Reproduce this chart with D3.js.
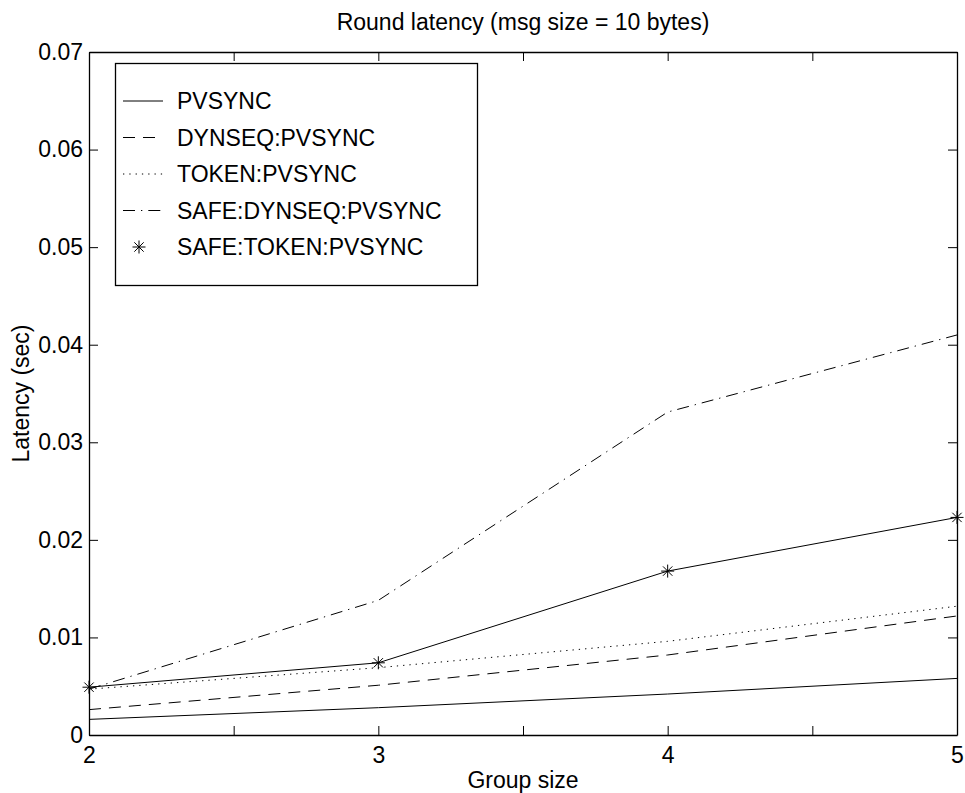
<!DOCTYPE html>
<html>
<head>
<meta charset="utf-8">
<script src="https://cdn.jsdelivr.net/npm/d3@7"></script>
<style>
  body { margin: 0; background: #fff; }
  text { font-family: "Liberation Sans", Arial, Helvetica, sans-serif; fill: #000; }
</style>
</head>
<body>
<div id="chart"></div>
<script>
// data
var groupSizes = [2, 3, 4, 5];
var pvsync = [0.0016, 0.0028, 0.0042, 0.0058];
var dynseq = [0.0026, 0.0051, 0.0082, 0.0122];
var token = [0.0047, 0.0069, 0.0096, 0.0132];
var safeDynseq = [0.0047, 0.0138, 0.0331, 0.0410];
var safeToken = [0.0049, 0.0074, 0.0168, 0.0223];

var xTicks = [2, 2.5, 3, 3.5, 4, 4.5, 5];
var yTicks = [0, 0.01, 0.02, 0.03, 0.04, 0.05, 0.06, 0.07];

var seriesNames = ["PVSYNC", "DYNSEQ:PVSYNC", "TOKEN:PVSYNC", "SAFE:DYNSEQ:PVSYNC", "SAFE:TOKEN:PVSYNC"];

var series = [
  {name: seriesNames[0], values: pvsync, dash: null, star: false},
  {name: seriesNames[1], values: dynseq, dash: "12,8", star: false},
  {name: seriesNames[2], values: token, dash: "1.3,5", star: false},
  {name: seriesNames[3], values: safeDynseq, dash: "12,6,1.3,6", star: false},
  {name: seriesNames[4], values: safeToken, dash: null, star: true}
];

var W = 965, H = 793;
var margin = {top: 52, right: 8, bottom: 58, left: 89};
var fs = 23;

var svg = d3.select("#chart")
  .append("svg")
  .attr("width", W)
  .attr("height", H);

var x = d3.scaleLinear().domain([2, 5]).range([margin.left, W - margin.right]);
var y = d3.scaleLinear().domain([0, 0.07]).range([H - margin.bottom, margin.top]);

var fmtY = function(d) { return d === 0 ? "0" : d3.format(".2f")(d); };
var fmtX = function(d) { return Number.isInteger(d) ? d : ""; };

// axes, ticks pointing inward on all four sides
var gx = svg.append("g")
  .attr("transform", "translate(0," + y(0) + ")")
  .call(d3.axisBottom(x).tickValues(xTicks).tickFormat(fmtX).tickSize(-9).tickSizeOuter(0).tickPadding(12));
var gy = svg.append("g")
  .attr("transform", "translate(" + x(2) + ",0)")
  .call(d3.axisLeft(y).tickValues(yTicks).tickFormat(fmtY).tickSize(-9).tickSizeOuter(0).tickPadding(6));
var gt = svg.append("g")
  .attr("transform", "translate(0," + y(0.07) + ")")
  .call(d3.axisTop(x).tickValues(xTicks).tickFormat("").tickSize(-9).tickSizeOuter(0));
var gr = svg.append("g")
  .attr("transform", "translate(" + x(5) + ",0)")
  .call(d3.axisRight(y).tickValues(yTicks).tickFormat("").tickSize(-9).tickSizeOuter(0));

[gx, gy, gt, gr].forEach(function(g) {
  g.selectAll("path").attr("stroke", "#000").attr("stroke-width", 1.3);
  g.selectAll("line").attr("stroke", "#000").attr("stroke-width", 1);
  g.selectAll("text").style("font-size", fs + "px").attr("fill", "#000");
});

// lines
var line = d3.line()
  .x(function(d, i) { return x(groupSizes[i]); })
  .y(function(d) { return y(d); });

series.forEach(function(s) {
  svg.append("path")
    .attr("d", line(s.values))
    .attr("fill", "none")
    .attr("stroke", "#000")
    .attr("stroke-width", 1)
    .attr("stroke-dasharray", s.dash);
});

function star(g, cx, cy) {
  var r = 6.5, d = r * 0.72;
  var p = d3.path();
  p.moveTo(cx - r, cy); p.lineTo(cx + r, cy);
  p.moveTo(cx, cy - r); p.lineTo(cx, cy + r);
  p.moveTo(cx - d, cy - d); p.lineTo(cx + d, cy + d);
  p.moveTo(cx - d, cy + d); p.lineTo(cx + d, cy - d);
  g.append("path").attr("d", p.toString()).attr("stroke", "#000").attr("stroke-width", 1).attr("fill", "none");
}

series.filter(function(s) { return s.star; }).forEach(function(s) {
  s.values.forEach(function(v, i) { star(svg, x(groupSizes[i]), y(v)); });
});

// legend
var legend = svg.append("g");
legend.append("rect")
  .attr("x", 115.5).attr("y", 63.5)
  .attr("width", 362).attr("height", 222)
  .attr("fill", "#fff").attr("stroke", "#000").attr("stroke-width", 1.3);

series.forEach(function(s, i) {
  var cy = 101 + i * 36.5;
  if (s.star) {
    star(legend, 139, cy);
  } else {
    legend.append("line")
      .attr("x1", 123).attr("x2", 163)
      .attr("y1", cy).attr("y2", cy)
      .attr("stroke", "#000").attr("stroke-width", 1)
      .attr("stroke-dasharray", s.dash);
  }
  legend.append("text")
    .attr("x", 177).attr("y", cy).attr("dy", "0.36em")
    .style("font-size", fs + "px")
    .text(s.name);
});

// titles
svg.append("text")
  .attr("x", (x(2) + x(5)) / 2).attr("y", 30)
  .attr("text-anchor", "middle")
  .style("font-size", fs + "px")
  .text("Round latency (msg size = 10 bytes)");

svg.append("text")
  .attr("x", (x(2) + x(5)) / 2).attr("y", 788)
  .attr("text-anchor", "middle")
  .style("font-size", fs + "px")
  .text("Group size");

svg.append("text")
  .attr("transform", "translate(29," + (y(0) + y(0.07)) / 2 + ") rotate(-90)")
  .attr("text-anchor", "middle")
  .style("font-size", fs + "px")
  .text("Latency (sec)");
</script>
</body>
</html>
